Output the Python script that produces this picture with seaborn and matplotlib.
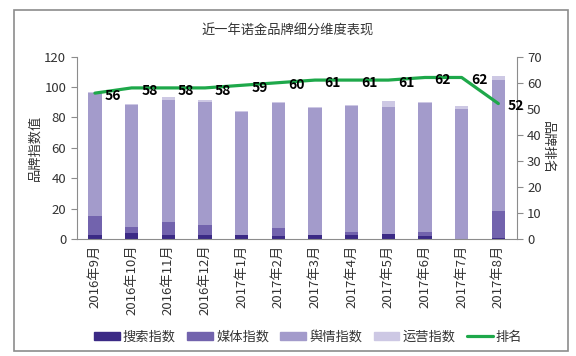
import numpy as np
import pandas as pd
import matplotlib
matplotlib.use('Agg')
import matplotlib.pyplot as plt
import matplotlib.patches as mpatches
import matplotlib.lines as mlines
import seaborn as sns

months = ['2016年9月', '2016年10月', '2016年11月', '2016年12月', '2017年1月', '2017年2月',
          '2017年3月', '2017年4月', '2017年5月', '2017年6月', '2017年7月', '2017年8月']
search_idx = [3.0, 4.4, 2.8, 3.0, 2.5, 2.4, 2.8, 3.0, 3.3, 2.4, 0.0, 0.8]
media_idx = [12.5, 3.6, 8.2, 6.6, 0.3, 5.2, 0.3, 1.6, 0.3, 2.4, 0.0, 17.8]
opinion_idx = [80.5, 80.3, 80.2, 80.7, 80.5, 81.9, 83.1, 83.1, 83.6, 84.4, 85.3, 85.7]
ops_idx = [1.0, 0.7, 2.4, 1.3, 1.1, 0.8, 1.0, 0.6, 3.8, 1.1, 2.4, 3.1]
rank = [56, 58, 58, 58, 59, 60, 61, 61, 61, 62, 62, 52]

series_names = ['搜索指数', '媒体指数', '舆情指数', '运营指数']
colors = ['#3b2a85', '#7263ad', '#a39bcb', '#cdc8e4']
line_color = '#1ea84a'

sns.set_style('white')
plt.rcParams['font.family'] = ['Noto Sans CJK SC', 'DejaVu Sans']

df = pd.DataFrame({'month': months, '搜索指数': search_idx, '媒体指数': media_idx,
                   '舆情指数': opinion_idx, '运营指数': ops_idx, '排名': rank})

fig = plt.figure(figsize=(5.76, 3.56), dpi=100)
fig.patches.append(mpatches.Rectangle((14 / 576, 5 / 356), 554 / 576, 341 / 356,
                                      transform=fig.transFigure, fill=False,
                                      edgecolor='#8c8c8c', linewidth=1.2))
ax = fig.add_axes([0.133, 0.328, 0.764, 0.513])

# stacked bars: draw cumulative totals from top layer down
cum = df[series_names].cumsum(axis=1)
for name, c in reversed(list(zip(series_names, colors))):
    sns.barplot(x=df['month'], y=cum[name], color=c, width=0.37, ax=ax,
                saturation=1, edgecolor='none')

ax.set_xlim(-0.5, 11.5)
ax.set_ylim(0, 120)
ax.set_yticks(range(0, 121, 20))
ax.set_xlabel('')
ax.set_ylabel('品牌指数值', fontsize=9.5, color='#333333', labelpad=2)
ax.set_xticks(range(12))
ax.set_xticklabels(months, rotation=90, fontsize=9.5, color='#333333')
ax.tick_params(axis='x', length=0, pad=4)
ax.set_xticks(np.arange(-0.5, 12, 1), minor=True)
ax.tick_params(axis='x', which='minor', length=4, direction='out', color='#8c8c8c')
ax.tick_params(axis='y', length=4, direction='out', color='#8c8c8c', labelsize=9.5,
               labelcolor='#333333', left=True)
for s in ['top', 'right']:
    ax.spines[s].set_visible(False)
for s in ['left', 'bottom']:
    ax.spines[s].set_color('#8c8c8c')

ax2 = ax.twinx()
sns.lineplot(x=np.arange(12), y=df['排名'], color=line_color, linewidth=2.3, ax=ax2)
ax2.set_ylim(0, 70)
ax2.set_yticks(range(0, 71, 10))
ax2.set_xlim(-0.5, 11.5)
ax2.set_ylabel('品牌排名', fontsize=9.5, color='#333333', rotation=270, labelpad=9)
ax2.tick_params(axis='y', length=4, direction='out', color='#8c8c8c', labelsize=9.5,
                labelcolor='#333333', right=True)
for s in ['top', 'left', 'bottom']:
    ax2.spines[s].set_visible(False)
ax2.spines['right'].set_color('#8c8c8c')
for i, v in enumerate(rank):
    ax2.annotate(str(v), (i, v), xytext=(7, -2), textcoords='offset points',
                 ha='left', va='center', fontsize=10, fontweight='bold', color='black')

fig.suptitle('近一年诺金品牌细分维度表现', y=0.93, fontsize=9.5, color='#333333')

handles = [mpatches.Patch(color=c, label=n) for n, c in zip(series_names, colors)]
handles.append(mlines.Line2D([], [], color=line_color, linewidth=2.3, label='排名'))
fig.legend(handles=handles, loc='center', bbox_to_anchor=(0.535, 0.053), ncol=5,
           frameon=False, fontsize=9.5, handlelength=1.95, handleheight=0.55,
           columnspacing=0.85, handletextpad=0.25, labelcolor='#333333')

fig.savefig('out.png', dpi=100)
